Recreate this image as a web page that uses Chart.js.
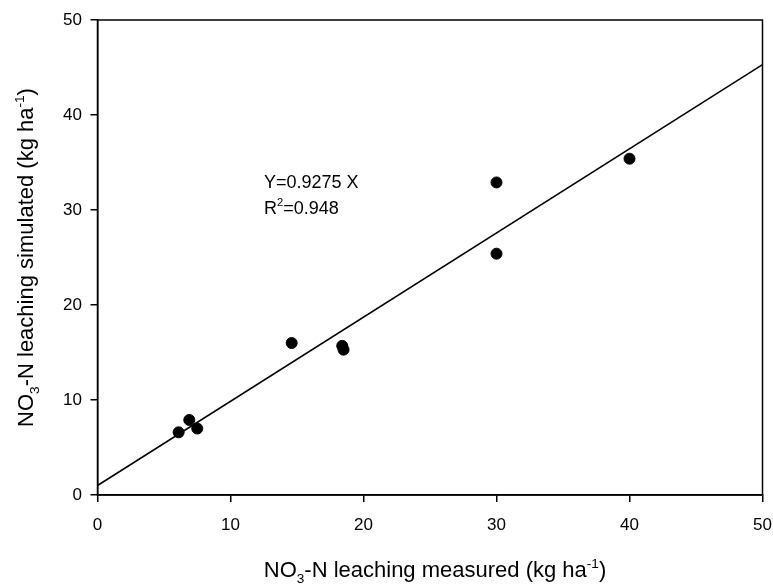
<!DOCTYPE html>
<html>
<head>
<meta charset="utf-8">
<script src="https://cdn.jsdelivr.net/npm/chart.js@4/dist/chart.umd.min.js"></script>
<style>
html,body{margin:0;padding:0;background:#fff;}
#wrap{width:773px;height:584px;position:relative;}
</style>
</head>
<body>
<div id="wrap"><canvas id="c" width="773" height="584"></canvas></div>
<script>
// Data
const measured = [6.1, 6.9, 7.5, 14.6, 18.4, 18.5, 30.0, 30.0, 40.0];
const simulated = [6.6, 7.9, 7.0, 16.0, 15.7, 15.3, 32.9, 25.4, 35.4];
const fitX = [0, 50];
const fitY = [1.0, 45.3];
const xTicks = [0, 10, 20, 30, 40, 50];
const yTicks = [0, 10, 20, 30, 40, 50];

const FONT = "'Liberation Sans', Arial, sans-serif";

// draws text segments with sub/superscript
function drawRich(ctx, segs, x, y, size, align) {
  const parts = segs.map(s => {
    const sz = s.t === 'n' ? size : size * 0.62;
    ctx.font = sz + "px " + FONT;
    return {txt: s.s, t: s.t, sz: sz, w: ctx.measureText(s.s).width};
  });
  const total = parts.reduce((a, p) => a + p.w, 0);
  let cx = align === 'center' ? x - total / 2 : x;
  ctx.textAlign = 'left';
  ctx.textBaseline = 'alphabetic';
  parts.forEach(p => {
    ctx.font = p.sz + "px " + FONT;
    let dy = 0;
    if (p.t === 'sub') dy = size * 0.28;
    if (p.t === 'sup') dy = -size * 0.42;
    ctx.fillText(p.txt, cx, y + dy);
    cx += p.w;
  });
}

const xTitle = [{s:'NO', t:'n'}, {s:'3', t:'sub'}, {s:'-N leaching measured (kg ha', t:'n'}, {s:'-1', t:'sup'}, {s:')', t:'n'}];
const yTitle = [{s:'NO', t:'n'}, {s:'3', t:'sub'}, {s:'-N leaching simulated (kg ha', t:'n'}, {s:'-1', t:'sup'}, {s:')', t:'n'}];

const decor = {
  id: 'decor',
  afterDraw(chart) {
    const ctx = chart.ctx;
    const a = chart.chartArea;
    ctx.save();
    ctx.strokeStyle = '#000';
    ctx.lineWidth = 1.5;
    ctx.strokeRect(a.left, a.top, a.right - a.left, a.bottom - a.top);
    ctx.fillStyle = '#000';
    // axis titles
    drawRich(ctx, xTitle, 435, 577, 22, 'center');
    ctx.save();
    ctx.translate(33, (a.top + a.bottom) / 2);
    ctx.rotate(-Math.PI / 2);
    drawRich(ctx, yTitle, 0, 0, 22, 'center');
    ctx.restore();
    // equation annotation
    drawRich(ctx, [{s:'Y=0.9275 X', t:'n'}], 264, 188, 18, 'left');
    drawRich(ctx, [{s:'R', t:'n'}, {s:'2', t:'sup'}, {s:'=0.948', t:'n'}], 264, 214, 18, 'left');
    ctx.restore();
  }
};

new Chart(document.getElementById('c'), {
  type: 'scatter',
  data: {
    datasets: [
      {
        type: 'line',
        data: fitX.map((x, i) => ({x: x, y: fitY[i]})),
        borderColor: '#000',
        borderWidth: 1.5,
        pointRadius: 0,
        fill: false,
        order: 2
      },
      {
        data: measured.map((x, i) => ({x: x, y: simulated[i]})),
        backgroundColor: '#000',
        borderColor: '#000',
        pointRadius: 5.5,
        pointHoverRadius: 5.5,
        order: 1
      }
    ]
  },
  options: {
    responsive: false,
    animation: false,
    events: [],
    layout: {padding: {left: 0, top: 20, right: 10.5, bottom: 0}},
    plugins: {legend: {display: false}, tooltip: {enabled: false}},
    scales: {
      x: {
        type: 'linear', min: 0, max: 50,
        afterBuildTicks(s) { s.ticks = xTicks.map(v => ({value: v})); },
        afterFit(s) { s.height = 89; s.paddingLeft = 0; s.paddingRight = 0; },
        grid: {display: true, drawOnChartArea: false, drawTicks: true, tickLength: 7, color: '#000', lineWidth: 1.5},
        border: {display: true, color: '#000', width: 1.5},
        ticks: {color: '#000', font: {family: FONT, size: 17}, padding: 13, maxRotation: 0}
      },
      y: {
        type: 'linear', min: 0, max: 50,
        afterBuildTicks(s) { s.ticks = yTicks.map(v => ({value: v})); },
        afterFit(s) { s.width = 97.5; s.paddingTop = 0; s.paddingBottom = 0; },
        grid: {display: true, drawOnChartArea: false, drawTicks: true, tickLength: 7, color: '#000', lineWidth: 1.5},
        border: {display: true, color: '#000', width: 1.5},
        ticks: {color: '#000', font: {family: FONT, size: 17}, padding: 8.5}
      }
    }
  },
  plugins: [decor]
});
</script>
</body>
</html>
